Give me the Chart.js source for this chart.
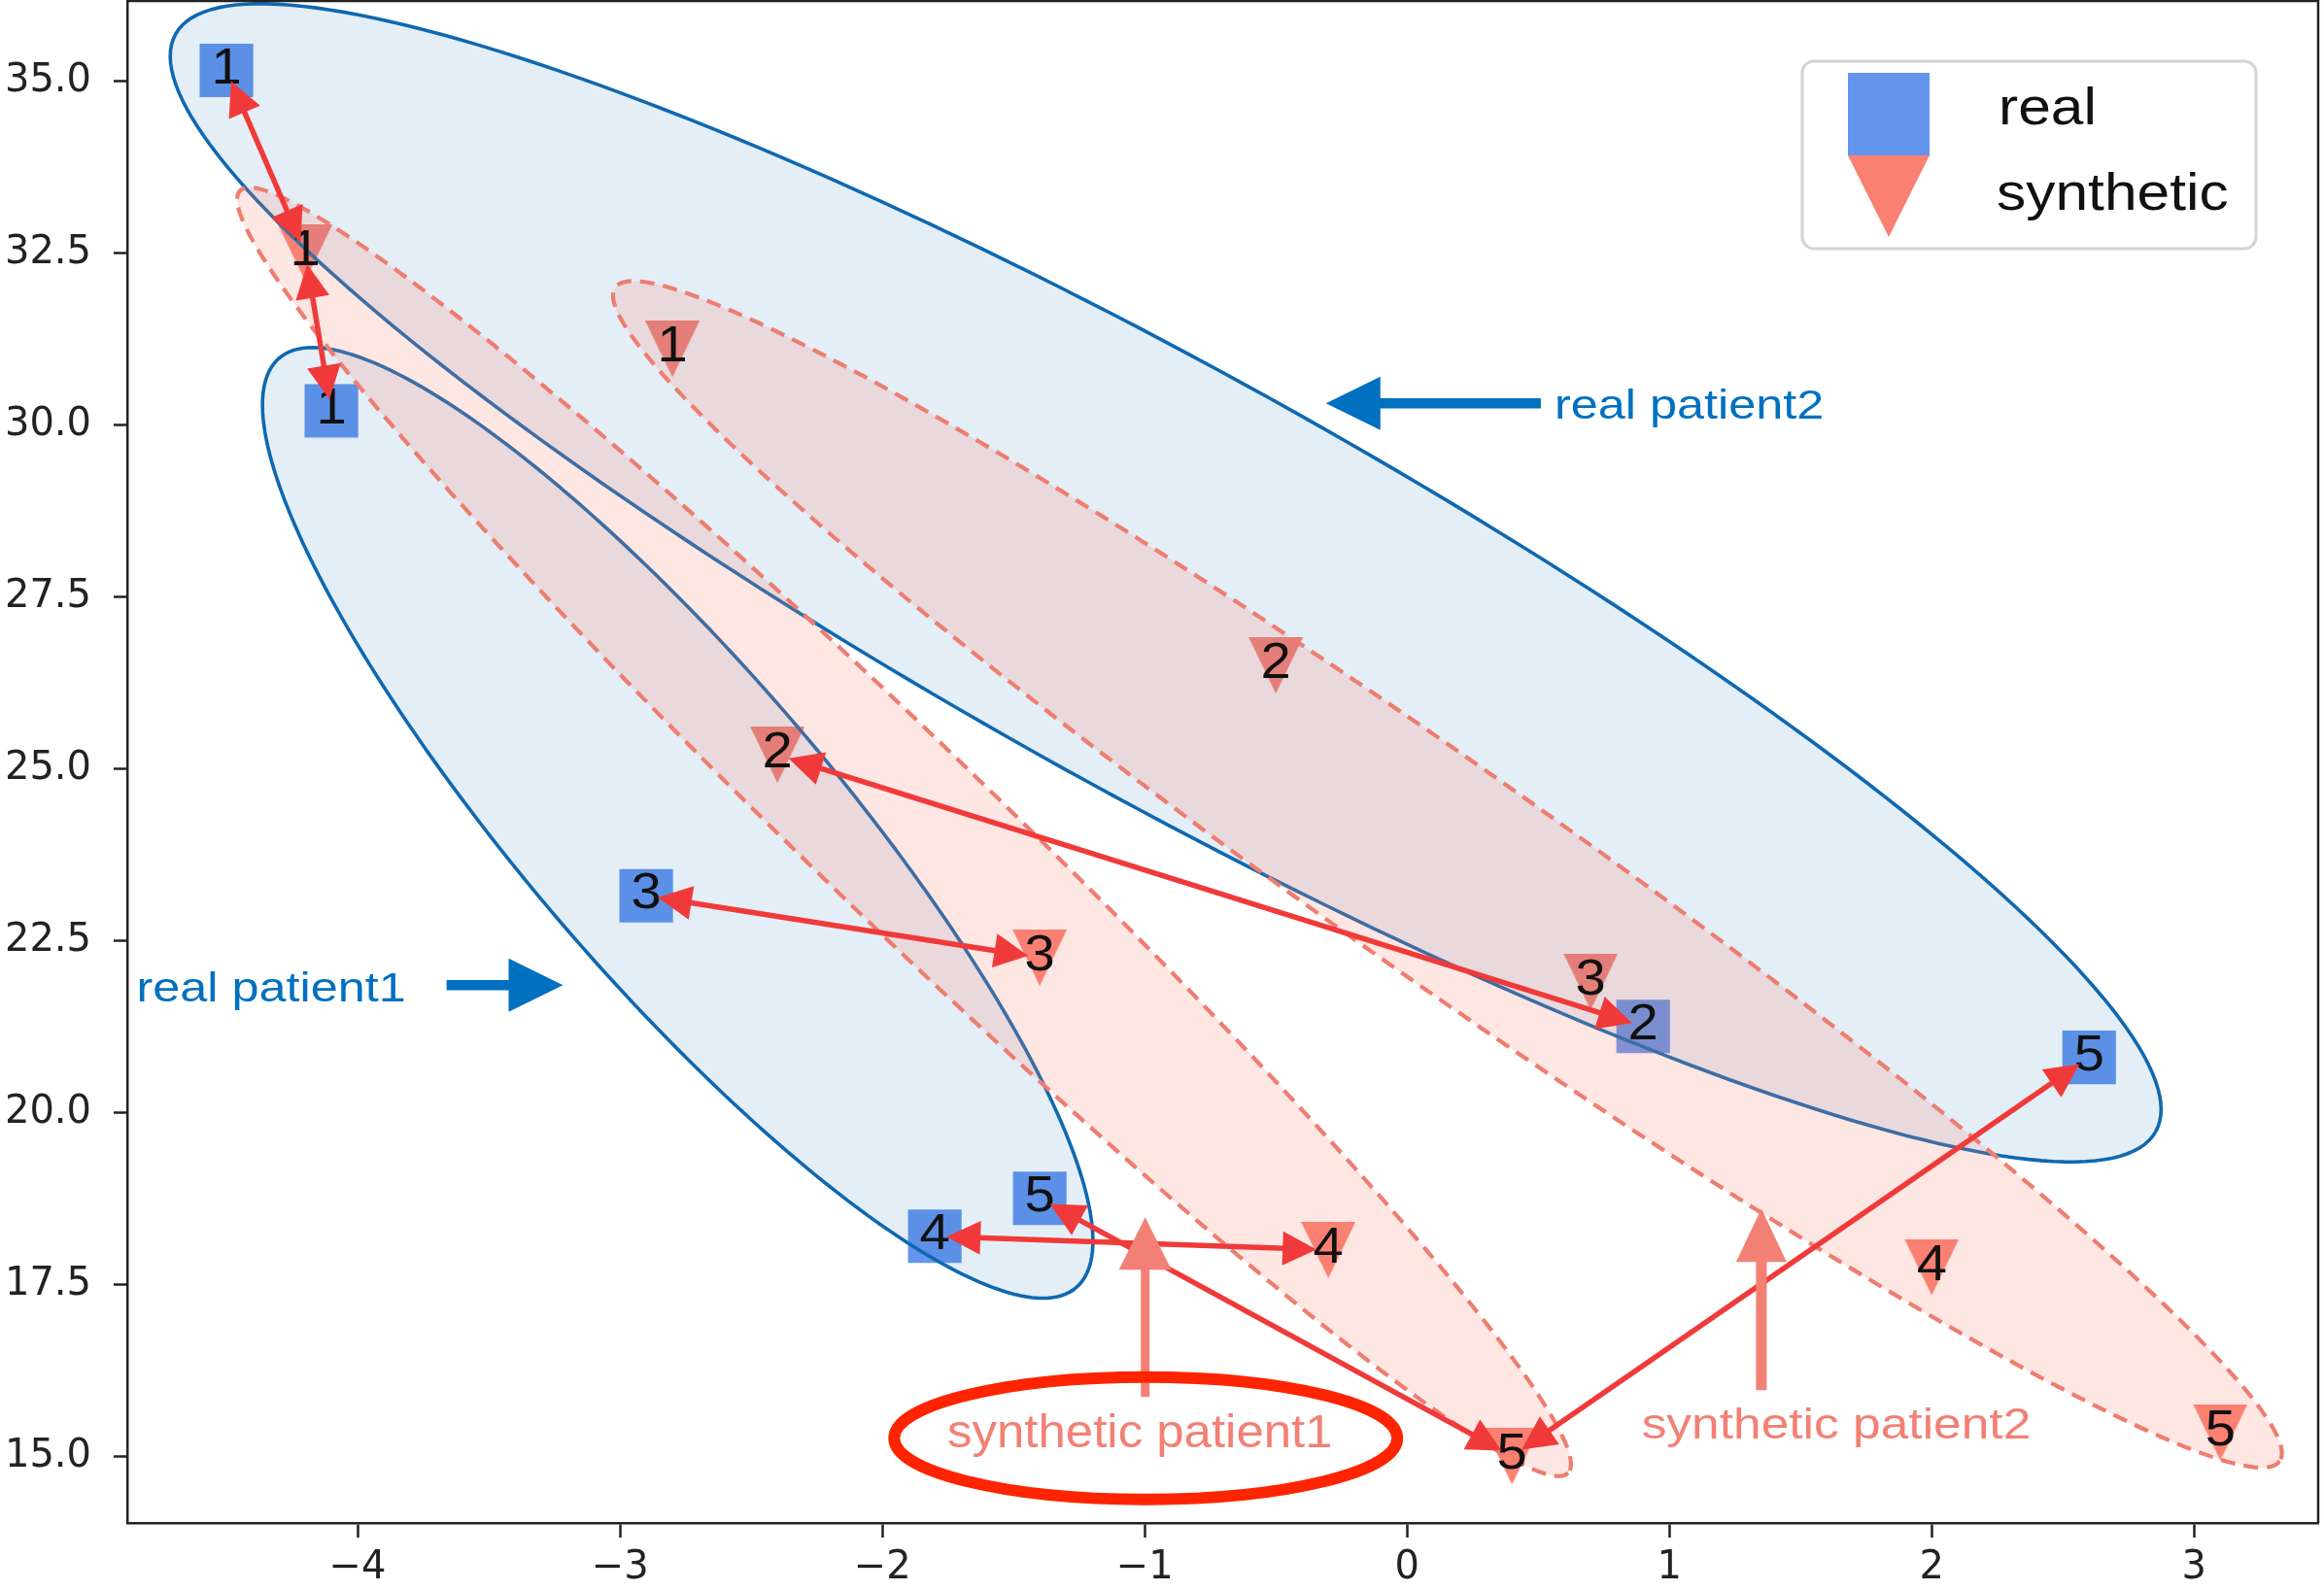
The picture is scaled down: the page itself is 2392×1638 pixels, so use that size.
<!DOCTYPE html>
<html>
<head>
<meta charset="utf-8">
<script src="https://cdn.jsdelivr.net/npm/chart.js@4.4.3/dist/chart.umd.min.js"></script>
<style>
  html, body { margin: 0; padding: 0; background: #fff; }
  canvas { display: block; }
</style>
</head>
<body>
<canvas id="chart" width="2392" height="1638"></canvas>
<script>
// real patients (blue squares); label is the visit number
const realX = [-4.1, -2.9, -1.8, -1.4, -4.5, 0.9, 2.6];
const realY = [30.2, 23.15, 18.2, 18.75, 35.15, 21.25, 20.8];
const realLabels = ['1', '3', '4', '5', '1', '2', '5'];

// synthetic patients (salmon triangles)
const synthX = [-4.2, -2.4, -1.4, -0.3, 0.4, -2.8, -0.5, 0.7, 2.0, 3.1];
const synthY = [32.5, 25.2, 22.25, 18.0, 15.0, 31.1, 26.5, 21.9, 17.75, 15.35];
const synthLabels = ['1', '2', '3', '4', '5', '1', '2', '3', '4', '5'];

// red double arrows: [real index, synthetic index]
const links = [[4, 0], [0, 0], [1, 2], [5, 1], [2, 3], [3, 4], [6, 4]];

// patient ellipses in data units: centre, major half-axis, minor half-axis
const ellipseGroup = ['real', 'real', 'synthetic', 'synthetic'];
const ellipseCenter = [[-0.92, 27.70], [-2.78, 24.21], [-1.917, 24.08], [0.154, 23.462]];
const ellipseMajor = [[3.774, -7.977], [1.519, -6.757], [2.531, -9.322], [3.172, -8.532]];
const ellipseMinor = [[-0.3915, -2.694], [-0.4445, -1.452], [-0.2367, -0.935], [-0.2349, -1.2695]];

const xTicks = [-4, -3, -2, -1, 0, 1, 2, 3];
const yTicks = [15, 17.5, 20, 22.5, 25, 27.5, 30, 32.5, 35];

const BLUE = '#0070c0';
const SALMON = 'rgb(242,128,116)';

// callouts placed in data units
const notes = [
  { text: 'real patient2', x: 0.562, y: 30.086, align: 'left', size: 42, sx: 1.2, color: BLUE },
  { text: 'real patient1', x: -4.843, y: 21.615, align: 'left', size: 42, sx: 1.2, color: BLUE },
  { text: 'synthetic patient1', x: -1.018, y: 15.128, align: 'center', size: 49, sx: 1.04, color: SALMON },
  { text: 'synthetic patient2', x: 1.636, y: 15.256, align: 'center', size: 44, sx: 1.17, color: SALMON }
];
const pointers = [
  { from: [0.51, 30.31], to: [-0.309, 30.31], color: BLUE, w: 10.5, hl: 56, hw: 55 },
  { from: [-3.661, 21.85], to: [-3.217, 21.85], color: BLUE, w: 10.5, hl: 56, hw: 55 },
  { from: [-0.998, 15.863], to: [-0.998, 18.476], color: SALMON, w: 9, hl: 54, hw: 54 },
  { from: [1.3506, 15.962], to: [1.3506, 18.603], color: SALMON, w: 11, hl: 55, hw: 52 }
];

const tri = document.createElement('canvas');
tri.width = 56; tri.height = 58;
(function () {
  const c = tri.getContext('2d');
  c.fillStyle = 'salmon';
  c.beginPath(); c.moveTo(0, 0); c.lineTo(56, 0); c.lineTo(28, 58); c.closePath(); c.fill();
})();

function arrow(ctx, x1, y1, x2, y2, o) {
  const len = Math.hypot(x2 - x1, y2 - y1);
  const ux = (x2 - x1) / len, uy = (y2 - y1) / len;
  ctx.save();
  ctx.strokeStyle = o.color; ctx.fillStyle = o.color; ctx.lineWidth = o.w; ctx.lineCap = 'butt';
  const sx = o.both ? x1 + ux * o.hl * 0.9 : x1, sy = o.both ? y1 + uy * o.hl * 0.9 : y1;
  ctx.beginPath(); ctx.moveTo(sx, sy); ctx.lineTo(x2 - ux * o.hl * 0.9, y2 - uy * o.hl * 0.9); ctx.stroke();
  const head = (tx, ty, dx, dy) => {
    const bx = tx - dx * o.hl, by = ty - dy * o.hl;
    ctx.beginPath();
    ctx.moveTo(tx, ty);
    ctx.lineTo(bx - dy * o.hw / 2, by + dx * o.hw / 2);
    ctx.lineTo(bx + dy * o.hw / 2, by - dx * o.hw / 2);
    ctx.closePath(); ctx.fill();
  };
  head(x2, y2, ux, uy);
  if (o.both) head(x1, y1, -ux, -uy);
  ctx.restore();
}

function stretchText(ctx, text, x, y, size, sx, align, color) {
  ctx.save();
  ctx.font = size + 'px "Liberation Sans", Arial, sans-serif';
  ctx.fillStyle = color; ctx.textBaseline = 'alphabetic'; ctx.textAlign = align;
  ctx.translate(x, y); ctx.scale(sx, 1);
  ctx.fillText(text, 0, 0);
  ctx.restore();
}

const overlay = {
  id: 'overlay',
  afterDatasetsDraw(chart) {
    const ctx = chart.ctx, xs = chart.scales.x, ys = chart.scales.y, area = chart.chartArea;
    const P = (x, y) => [xs.getPixelForValue(x), ys.getPixelForValue(y)];

    ctx.save();
    ctx.beginPath(); ctx.rect(area.left, area.top, area.right - area.left, area.bottom - area.top); ctx.clip();

    // ellipses over the markers
    ellipseCenter.forEach((c, i) => {
      const a = ellipseMajor[i], b = ellipseMinor[i];
      ctx.beginPath();
      for (let k = 0; k <= 240; k++) {
        const t = k / 240 * Math.PI * 2;
        const [X, Y] = P(c[0] + a[0] * Math.cos(t) + b[0] * Math.sin(t), c[1] + a[1] * Math.cos(t) + b[1] * Math.sin(t));
        k === 0 ? ctx.moveTo(X, Y) : ctx.lineTo(X, Y);
      }
      ctx.closePath();
      if (ellipseGroup[i] === 'real') {
        ctx.fillStyle = 'rgba(31,119,180,0.12)'; ctx.fill();
        ctx.setLineDash([]); ctx.strokeStyle = '#0f68b0'; ctx.lineWidth = 3.6; ctx.stroke();
      } else {
        ctx.fillStyle = 'rgba(250,128,114,0.2)'; ctx.fill();
        ctx.setLineDash([15, 9]); ctx.strokeStyle = 'rgb(238,125,112)'; ctx.lineWidth = 4.2; ctx.stroke();
      }
    });
    ctx.setLineDash([]);

    // visit numbers
    realX.forEach((x, i) => {
      const [X, Y] = P(x, realY[i]);
      stretchText(ctx, realLabels[i], X, Y + 13, 52, 1.08, 'center', '#111');
    });
    synthX.forEach((x, i) => {
      const [X, Y] = P(x, synthY[i]);
      stretchText(ctx, synthLabels[i], X, Y + 13, 52, 1.08, 'center', '#111');
    });

    // red links between real and synthetic visits
    links.forEach(([r, s]) => {
      const [x1, y1] = P(realX[r], realY[r]);
      const [x2, y2] = P(synthX[s], synthY[s]);
      const len = Math.hypot(x2 - x1, y2 - y1), shrink = 12;
      const ux = (x2 - x1) / len, uy = (y2 - y1) / len;
      arrow(ctx, x1 + ux * shrink, y1 + uy * shrink, x2 - ux * shrink, y2 - uy * shrink,
        { color: 'rgb(240,58,58)', w: 5.5, hl: 35, hw: 35, both: true });
    });

    // callouts
    pointers.forEach(p => {
      const [x1, y1] = P(p.from[0], p.from[1]);
      const [x2, y2] = P(p.to[0], p.to[1]);
      arrow(ctx, x1, y1, x2, y2, { color: p.color, w: p.w, hl: p.hl, hw: p.hw, both: false });
    });
    notes.forEach(n => {
      const [X, Y] = P(n.x, n.y);
      stretchText(ctx, n.text, X, Y, n.size, n.sx, n.align, n.color);
    });
    const [ex, ey] = P(-0.996, 15.263);
    const rx = xs.getPixelForValue(-0.996 + 0.959) - ex;
    const ry = ys.getPixelForValue(15.263 - 0.89) - ey;
    ctx.beginPath(); ctx.ellipse(ex, ey, rx, ry, 0, 0, Math.PI * 2);
    ctx.strokeStyle = '#ff2400'; ctx.lineWidth = 12; ctx.stroke();
    ctx.restore();

    // top and right spines
    ctx.save();
    ctx.strokeStyle = '#222'; ctx.lineWidth = 2.5;
    ctx.beginPath(); ctx.moveTo(area.left, area.top); ctx.lineTo(area.right, area.top); ctx.lineTo(area.right, area.bottom); ctx.stroke();

    // legend
    const lx = area.right - 64 - 467, ly = area.top + 62;
    ctx.beginPath(); ctx.roundRect(lx, ly, 467, 193, 12);
    ctx.fillStyle = 'rgba(255,255,255,0.85)'; ctx.fill();
    ctx.strokeStyle = '#d4d4d4'; ctx.lineWidth = 3; ctx.stroke();
    ctx.fillStyle = 'cornflowerblue'; ctx.fillRect(lx + 47, ly + 12, 84, 85);
    ctx.fillStyle = 'salmon';
    ctx.beginPath(); ctx.moveTo(lx + 47, ly + 97); ctx.lineTo(lx + 131, ly + 97); ctx.lineTo(lx + 89, ly + 181); ctx.closePath(); ctx.fill();
    stretchText(ctx, chart.data.datasets[0].label, lx + 202, ly + 65, 54, 1.12, 'left', '#111');
    stretchText(ctx, chart.data.datasets[1].label, lx + 200, ly + 153, 54, 1.12, 'left', '#111');
    ctx.restore();
  }
};

const axisFont = { family: 'DejaVu Sans', size: 40 };
const noPad = s => { s.paddingTop = 0; s.paddingBottom = 0; s.paddingLeft = 0; s.paddingRight = 0; };

new Chart(document.getElementById('chart'), {
  type: 'scatter',
  data: {
    datasets: [{
      label: 'real',
      data: realX.map((x, i) => ({ x, y: realY[i] })),
      pointStyle: 'rect',
      pointRadius: 39,
      pointBorderWidth: 0,
      backgroundColor: 'cornflowerblue'
    }, {
      label: 'synthetic',
      data: synthX.map((x, i) => ({ x, y: synthY[i] })),
      pointStyle: tri,
      pointRadius: 30,
      pointBorderWidth: 0,
      backgroundColor: 'salmon'
    }]
  },
  options: {
    responsive: false,
    animation: false,
    devicePixelRatio: 1,
    layout: { autoPadding: false, padding: { top: 1, right: 6, left: 0, bottom: 0 } },
    plugins: { legend: { display: false }, tooltip: { enabled: false } },
    scales: {
      x: {
        type: 'linear', position: 'bottom', min: -4.878, max: 3.473,
        afterFit: s => { s.height = 70; noPad(s); },
        afterBuildTicks: s => { s.ticks = xTicks.map(v => ({ value: v })); },
        ticks: { font: axisFont, color: '#222', padding: 8,
          callback: v => (v < 0 ? '\u2212' : '') + Math.abs(v) },
        grid: { drawOnChartArea: false, tickLength: 15, tickWidth: 2.5, tickColor: '#222' },
        border: { color: '#222', width: 2.5 }
      },
      y: {
        type: 'linear', position: 'left', min: 14.03, max: 36.16,
        afterFit: s => { s.width = 131; noPad(s); },
        afterBuildTicks: s => { s.ticks = yTicks.map(v => ({ value: v })); },
        ticks: { font: axisFont, color: '#222', padding: 23, callback: v => v.toFixed(1) },
        grid: { drawOnChartArea: false, tickLength: 14, tickWidth: 2.5, tickColor: '#222' },
        border: { color: '#222', width: 2.5 }
      }
    }
  },
  plugins: [overlay]
});
</script>
</body>
</html>
